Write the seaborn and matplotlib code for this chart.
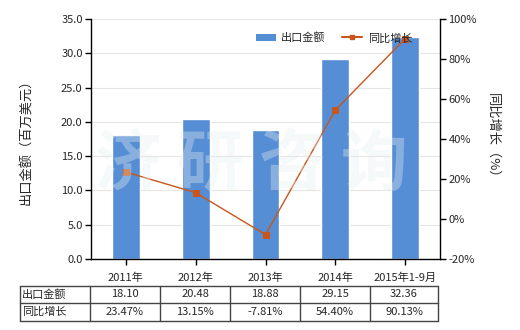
import matplotlib
matplotlib.use("Agg")
import matplotlib.pyplot as plt
import seaborn as sns
import pandas as pd
from matplotlib.lines import Line2D
from matplotlib.patches import Patch

categories = ["2011年", "2012年", "2013年", "2014年", "2015年1-9月"]
export_values = [18.10, 20.48, 18.88, 29.15, 32.36]
growth_values = [23.47, 13.15, -7.81, 54.40, 90.13]
export_labels = ["18.10", "20.48", "18.88", "29.15", "32.36"]
growth_labels = ["23.47%", "13.15%", "-7.81%", "54.40%", "90.13%"]
left_ticks = [0, 5, 10, 15, 20, 25, 30, 35]
right_ticks = [-20, 0, 20, 40, 60, 80, 100]
watermark = "济研咨询"

sns.set_style("white")
plt.rcParams["font.family"] = ["Noto Sans CJK SC", "DejaVu Sans"]
plt.rcParams["axes.unicode_minus"] = False

df = pd.DataFrame({"cat": categories, "val": export_values, "g": growth_values})

BAR = "#568ed6"
LINE = "#c8561a"
fs = 8

fig = plt.figure(figsize=(5.2, 3.3), dpi=100)
ax = fig.add_axes([91/520, 1-259/330, (440-91)/520, (259-19)/330])
sns.barplot(data=df, x="cat", y="val", color=BAR, width=0.4, ax=ax, saturation=1, zorder=2)
ax.set_xlim(-0.5, 4.5)
ax.set_ylim(0, 35)
ax.set_yticks(left_ticks)
ax.set_yticklabels([f"{v:.1f}" for v in left_ticks], fontsize=fs)
ax.set_xticks(range(5))
ax.set_xticklabels(categories, fontsize=fs)
ax.set_xlabel("")
ax.set_ylabel("出口金额（百万美元）", fontsize=9.5, labelpad=20)
ax.yaxis.grid(True, color="#e8e6e2", linewidth=0.8, zorder=0)
ax.set_axisbelow(True)
for s in ["top", "right"]:
    ax.spines[s].set_visible(False)
for s in ["left", "bottom"]:
    ax.spines[s].set_color("black")
    ax.spines[s].set_linewidth(1)
ax.tick_params(axis="both", direction="out", length=4, width=1, color="black", bottom=True, left=True, pad=2)
ax.tick_params(axis="x", pad=6)

ax2 = ax.twinx()
sns.pointplot(data=df, x="cat", y="g", color=LINE, markers="s", markersize=4,
              linewidth=1, ax=ax2, zorder=3)
ax2.set_xlim(-0.5, 4.5)
ax2.set_ylim(-20, 100)
ax2.set_yticks(right_ticks)
ax2.set_yticklabels([f"{v}%" for v in right_ticks], fontsize=fs)
ax2.set_ylabel("同比增长（%）", fontsize=9.5, rotation=-90, labelpad=16)
ax2.set_xlabel("")
for s in ["top", "left", "bottom"]:
    ax2.spines[s].set_visible(False)
ax2.spines["right"].set_color("black")
ax2.spines["right"].set_linewidth(1)
ax2.tick_params(axis="y", direction="out", length=4, width=1, color="black", right=True, pad=2)
ax2.grid(False)

# watermark, one character at a time
W, H = 520, 330
for i, ch in enumerate(watermark):
    fig.text((128 + i * 82) / W, 1 - 165 / H, ch, ha="center", va="center", fontsize=48,
             fontweight="bold", color="#e6eeee", alpha=0.35, zorder=10)

handles = [Patch(facecolor=BAR, edgecolor="none"),
           Line2D([0], [0], color=LINE, marker="s", markersize=3, linewidth=1.5)]
fig.legend(handles, ["出口金额", "同比增长"], loc="center", bbox_to_anchor=(334/520, 1-38/330),
           ncol=2, frameon=False, fontsize=fs, handlelength=1.8, columnspacing=1.5, handletextpad=0.5)

# table
xs = [20, 90, 160, 230, 300, 370, 438]
ys = [285.5, 303, 320.5]
for y in ys:
    fig.add_artist(Line2D([xs[0]/W, xs[-1]/W], [1-y/H, 1-y/H], color="#444444", linewidth=1))
for x in xs:
    fig.add_artist(Line2D([x/W, x/W], [1-ys[0]/H, 1-ys[-1]/H], color="#444444", linewidth=1))
rows = [("出口金额", export_labels), ("同比增长", growth_labels)]
for r, (name, labels) in enumerate(rows):
    yc = 1 - (ys[r] + ys[r+1]) / 2 / H
    fig.text(22/W, yc, name, ha="left", va="center", fontsize=fs)
    for i, lab in enumerate(labels):
        xc = (xs[i+1] + xs[i+2]) / 2 / W
        fig.text(xc, yc, lab, ha="center", va="center", fontsize=fs)

fig.savefig("out.png", dpi=100)
